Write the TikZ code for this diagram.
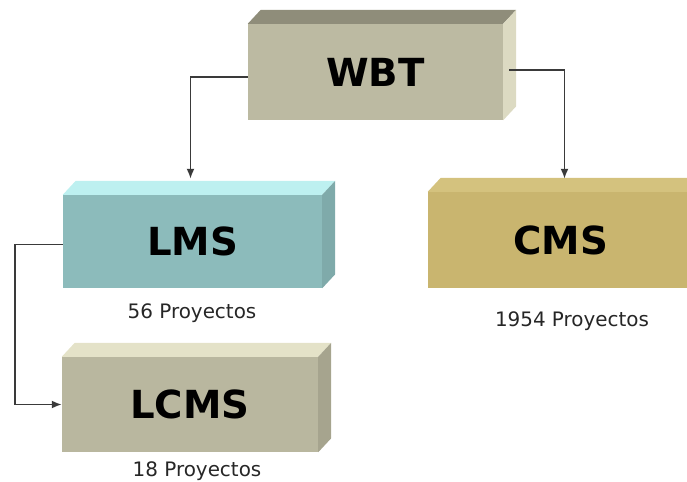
\documentclass[tikz,border=0pt]{standalone}
\usepackage{fontspec}
\setmainfont{DejaVu Sans}
\usepackage{xcolor}
\usepackage{tikz}
\usetikzlibrary{arrows.meta, calc}
\definecolor{wbtfront}{HTML}{BCBAA2}
\definecolor{wbttop}{HTML}{8F8D7A}
\definecolor{wbtside}{HTML}{DCDAC2}
\definecolor{lmsfront}{HTML}{8CBBBB}
\definecolor{lmstop}{HTML}{BDF0F0}
\definecolor{lmsside}{HTML}{7FAAAA}
\definecolor{cmsfront}{HTML}{C9B56F}
\definecolor{cmstop}{HTML}{D4C27E}
\definecolor{cmsside}{HTML}{B5A260}
\definecolor{lcmsfront}{HTML}{B9B79F}
\definecolor{lcmstop}{HTML}{E4E2C8}
\definecolor{lcmsside}{HTML}{A6A48E}
\definecolor{wire}{HTML}{3A3A3A}

\begin{document}
\begin{tikzpicture}[x=0.03cm, y=-0.03cm,
    block/.style={inner sep=0pt, font=\fontsize{33}{33}\selectfont\bfseries},
    count/.style={text=black!85, font=\fontsize{17}{17}\selectfont},
    wired/.style={draw=wire, line width=1.4pt, -{Latex[length=0.3cm, width=0.24cm]}}]
    \useasboundingbox (0,0) rectangle (687,482);
    \clip (0,0) rectangle (687,482);

    % front faces
    \node[block, fill=wbtfront, minimum width=7.65cm, minimum height=2.88cm]
        (wbt) at (375.5,72) {WBT};
    \node[block, fill=lmsfront, minimum width=7.77cm, minimum height=2.79cm]
        (lms) at (192.5,241.5) {LMS};
    \node[block, fill=cmsfront, minimum width=7.95cm, minimum height=2.88cm]
        (cms) at (560.5,240) {CMS};
    \node[block, fill=lcmsfront, minimum width=7.68cm, minimum height=2.85cm]
        (lcms) at (190,404.5) {LCMS};

    % top and side faces
    \foreach \n/\t/\s in {wbt/wbttop/wbtside, lms/lmstop/lmsside,
                          cms/cmstop/cmsside, lcms/lcmstop/lcmsside} {
        \fill[\t] (\n.north west) -- ++(13,-14) -- ($(\n.north east)+(13,-14)$)
            -- (\n.north east) -- cycle;
        \fill[\s] (\n.north east) -- ++(13,-14) -- ($(\n.south east)+(13,-14)$)
            -- (\n.south east) -- cycle;
    }

    \node[count] (lmsn) at (192,313) {56 Proyectos};
    \node[count] (cmsn) at (572,321) {1954 Proyectos};
    \node[count] (lcmsn) at (197,471) {18 Proyectos};

    \draw[wired] ($(wbt.west)+(0,5)$) -| ($(lms.north)+(-2,-16)$);
    \draw[wired] ($(wbt.east)+(6,-2)$) -| ($(cms.north)+(4,-13)$);
    \draw[wired] ($(lms.west)+(0,3)$) -- ++(-48,0) |- (lcms.west);
\end{tikzpicture}
\end{document}
